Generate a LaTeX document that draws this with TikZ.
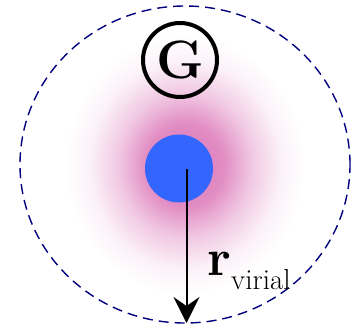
\documentclass[tikz,border=0pt]{standalone}
\usetikzlibrary{arrows.meta,shapes.geometric}
\definecolor{halo}{RGB}{0,0,128}
\definecolor{bluedisk}{RGB}{51,102,255}
\definecolor{glowpink}{RGB}{220,120,185}
\pgfdeclareradialshading{glowshade}{\pgfpoint{0bp}{0bp}}{%
  color(0bp)=(glowpink);
  color(8bp)=(glowpink!85!white);
  color(14bp)=(glowpink!40!white);
  color(20bp)=(glowpink!10!white);
  color(25bp)=(white);
  color(50bp)=(white)}
\tikzset{
  halostyle/.style={draw=halo, dashed, dash pattern=on 10pt off 6pt, line width=1.4pt},
  gcircle/.style={circle, draw=black, line width=4pt, minimum size=74pt, inner sep=0pt, font=\fontsize{54}{54}\selectfont\bfseries},
  disk/.style={circle, fill=bluedisk, minimum size=68pt, inner sep=0pt},
  radarrow/.style={line width=2pt, -{Stealth[length=26pt, width=26pt, inset=9pt]}},
}
\begin{document}
\begin{tikzpicture}[x=1pt,y=1pt]
\useasboundingbox (0,0) rectangle (351,325);
\fill[white] (0,0) rectangle (351,325);
% glow
\shade[shading=glowshade] (65,30) rectangle (305,290);
% halo
\node[ellipse, halostyle, minimum width=330pt, minimum height=317pt, inner sep=0pt] (halo) at (185,160.5) {};
% G symbol
\node[gcircle] (G) at (180,265) {G};
% central disk
\node[disk] (disk) at (179,156.5) {};
\coordinate (c) at (186.5,156);
\coordinate (rend) at (186.5,2);
\draw[radarrow] (c) -- (rend);
% label
\node[anchor=base west, inner sep=0pt] (r) at (207,50) {\fontsize{52}{52}\selectfont\bfseries r};
\node[anchor=base west, inner sep=0pt] (sub) at (231,36) {\fontsize{29}{29}\selectfont virial};
\end{tikzpicture}
\end{document}
